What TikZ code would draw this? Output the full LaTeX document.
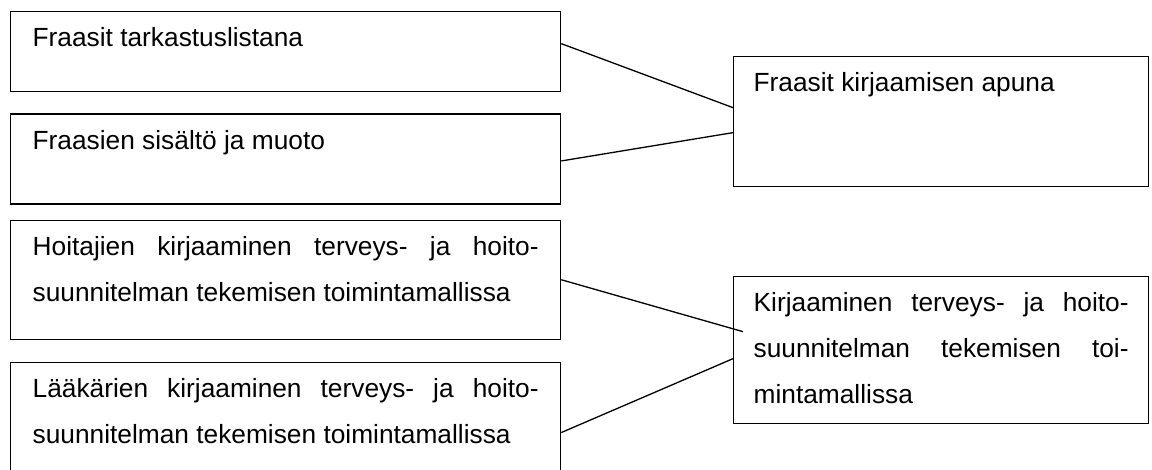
\documentclass[tikz,border=0pt]{standalone}
\usepackage{fontspec}
\setmainfont{Liberation Sans}
\usetikzlibrary{positioning}
\hyphenpenalty=10000
\exhyphenpenalty=10000

\begin{document}
\begin{tikzpicture}[x=1pt,y=-1pt,
    font=\fontsize{26.3}{46}\selectfont,
    ruutu/.style={draw,rectangle,line width=1.3pt,inner xsep=22pt,inner ysep=3pt,anchor=north west},
    ruutuoik/.style={ruutu,inner xsep=20pt},
    yhteys/.style={draw,line width=1.3pt}]

  \useasboundingbox (0,0) rectangle (1152,470);
  \clip (0,0) rectangle (1152,470);

  % vasen sarake
  \node [ruutu] (tark) at (10,11)
    {\parbox[t][74pt][t]{506pt}{\strut Fraasit tarkastuslistana}};
  \node [ruutu,below=21pt of tark] (sis)
    {\parbox[t][84pt][t]{506pt}{\strut Fraasien sisältö ja muoto}};
  \node [ruutu,below=15pt of sis] (hoit)
    {\parbox[t][113pt][t]{506pt}{\strut Hoitajien kirjaaminen terveys- ja hoito-\linebreak suunnitelman tekemisen toimintamallissa}};
  \node [ruutu,below=22pt of hoit] (laak)
    {\parbox[t][113pt][t]{506pt}{\strut Lääkärien kirjaaminen terveys- ja hoito-\linebreak suunnitelman tekemisen toimintamallissa}};

  % oikea sarake
  \node [ruutuoik] (apu) at (733,56)
    {\parbox[t][124pt][t]{375pt}{\strut Fraasit kirjaamisen apuna}};
  \node [ruutuoik] (kirj) at (733,276)
    {\parbox[t][141pt][t]{375pt}{\strut Kirjaaminen terveys- ja hoito-\linebreak suunnitelman tekemisen toi-\linebreak mintamallissa}};

  \path [yhteys]
    ([yshift=8pt]tark.east)     -- ([yshift=14pt]apu.west)
    ([yshift=-2pt]sis.east)     -- ([yshift=-11pt]apu.west)
    (hoit.east)                 -- ([xshift=10pt,yshift=18.5pt]kirj.west)
    ([yshift=-10.5pt]laak.east) -- ([yshift=-8.5pt]kirj.west);
\end{tikzpicture}
\end{document}
